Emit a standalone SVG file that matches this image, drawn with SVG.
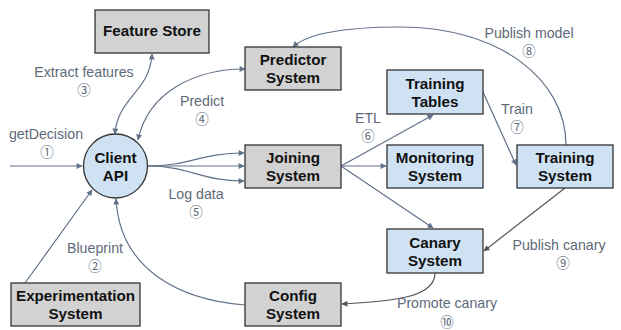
<svg xmlns="http://www.w3.org/2000/svg" width="621" height="330" viewBox="0 0 621 330">
<style>
.box{stroke:#333;stroke-width:1.3}
.gray{fill:#d2d2d2}
.blue{fill:#cfe2f3}
.t{font-family:"Liberation Sans","DejaVu Sans",Arial,sans-serif;font-weight:bold;font-size:15.2px;fill:#111;text-anchor:middle}
.l{font-family:"Liberation Sans","DejaVu Sans",Arial,sans-serif;font-size:14.2px;fill:#5e6a7a;text-anchor:middle}
.n{font-family:"Noto Sans CJK SC","DejaVu Sans",sans-serif;font-size:13.5px;fill:#5e6a7a;text-anchor:middle}
.c{fill:none;stroke:#627289;stroke-width:1.2}
.d{fill:none;stroke:#555;stroke-width:1.2}
</style>
<defs>
<marker id="a" viewBox="0 0 10 10" refX="9" refY="5" markerWidth="7" markerHeight="6" markerUnits="userSpaceOnUse" orient="auto-start-reverse"><path d="M0,0 L10,5 L0,10 z" fill="#627289"/></marker>
<marker id="b" viewBox="0 0 10 10" refX="9" refY="5" markerWidth="7" markerHeight="6" markerUnits="userSpaceOnUse" orient="auto"><path d="M0,0 L10,5 L0,10 z" fill="#555"/></marker>
</defs>
<g id="connectors">
<path class="c" d="M10,166 L82,166" marker-end="url(#a)"/>
<path class="c" d="M25,283 L92,190" marker-end="url(#a)"/>
<path class="c" d="M152,54 C150,92 117,98 115,134" marker-start="url(#a)" marker-end="url(#a)"/>
<path class="c" d="M245,69 C195,69 148,92 138,140" marker-start="url(#a)" marker-end="url(#a)"/>
<path class="c" d="M148,166 C190,166 200,153 244,153" marker-end="url(#a)"/>
<path class="c" d="M148,166 L244,166" marker-end="url(#a)"/>
<path class="c" d="M148,166 C190,166 200,181 244,181" marker-end="url(#a)"/>
<path class="c" d="M341,166 L433,115" marker-end="url(#a)"/>
<path class="c" d="M341,166 L386,166" marker-end="url(#a)"/>
<path class="c" d="M341,166 L433,228" marker-end="url(#a)"/>
<path class="c" d="M483,92 L516,165" marker-end="url(#a)"/>
<path class="c" d="M566,145 C566,80 500,27 400,27 C340,27 305,35 293,47" marker-end="url(#a)"/>
<path class="d" d="M565,188 L484,251" marker-end="url(#b)"/>
<path class="d" d="M435,273 C435,296 400,301 342,304" marker-end="url(#b)"/>
<path class="c" d="M245,305 C180,300 120,270 116,199" marker-end="url(#a)"/>
</g>
<g id="labels">
<text class="l" x="46" y="139">getDecision</text><text class="n" x="47" y="157">①</text>
<text class="l" x="84" y="77">Extract features</text><text class="n" x="84" y="95">③</text>
<text class="l" x="202" y="106">Predict</text><text class="n" x="202" y="124">④</text>
<text class="l" x="196" y="199">Log data</text><text class="n" x="196" y="217">⑤</text>
<text class="l" x="95" y="253">Blueprint</text><text class="n" x="95" y="271">②</text>
<text class="l" x="368" y="123">ETL</text><text class="n" x="368" y="141">⑥</text>
<text class="l" x="517" y="114">Train</text><text class="n" x="517" y="132">⑦</text>
<text class="l" x="529" y="38">Publish model</text><text class="n" x="529" y="56">⑧</text>
<text class="l" x="559" y="250">Publish canary</text><text class="n" x="563" y="268">⑨</text>
<text class="l" x="447" y="308">Promote canary</text><text class="n" x="447" y="327">⑩</text>
</g>
<g id="client-api"><circle cx="115.5" cy="166" r="32" class="box blue"/><text class="t" x="115.5" y="163">Client</text><text class="t" x="115.5" y="181">API</text></g>
<g id="feature-store"><rect x="95" y="10" width="114" height="43" class="box gray"/><text class="t" x="152" y="36">Feature Store</text></g>
<g id="predictor-system"><rect x="245" y="47" width="96" height="43" class="box gray"/><text class="t" x="293" y="65">Predictor</text><text class="t" x="293" y="83">System</text></g>
<g id="joining-system"><rect x="245" y="145" width="96" height="43" class="box gray"/><text class="t" x="293" y="163">Joining</text><text class="t" x="293" y="181">System</text></g>
<g id="config-system"><rect x="245" y="283" width="96" height="43" class="box gray"/><text class="t" x="293" y="301">Config</text><text class="t" x="293" y="319">System</text></g>
<g id="experimentation-system"><rect x="11" y="283" width="129" height="43" class="box gray"/><text class="t" x="75.5" y="301">Experimentation</text><text class="t" x="75.5" y="319">System</text></g>
<g id="training-tables"><rect x="387" y="70" width="96" height="44" class="box blue"/><text class="t" x="435" y="89">Training</text><text class="t" x="435" y="107">Tables</text></g>
<g id="monitoring-system"><rect x="387" y="145" width="96" height="43" class="box blue"/><text class="t" x="435" y="163">Monitoring</text><text class="t" x="435" y="181">System</text></g>
<g id="training-system"><rect x="517" y="145" width="96" height="43" class="box blue"/><text class="t" x="565" y="163">Training</text><text class="t" x="565" y="181">System</text></g>
<g id="canary-system"><rect x="387" y="229" width="96" height="44" class="box blue"/><text class="t" x="435" y="248">Canary</text><text class="t" x="435" y="266">System</text></g>
</svg>
